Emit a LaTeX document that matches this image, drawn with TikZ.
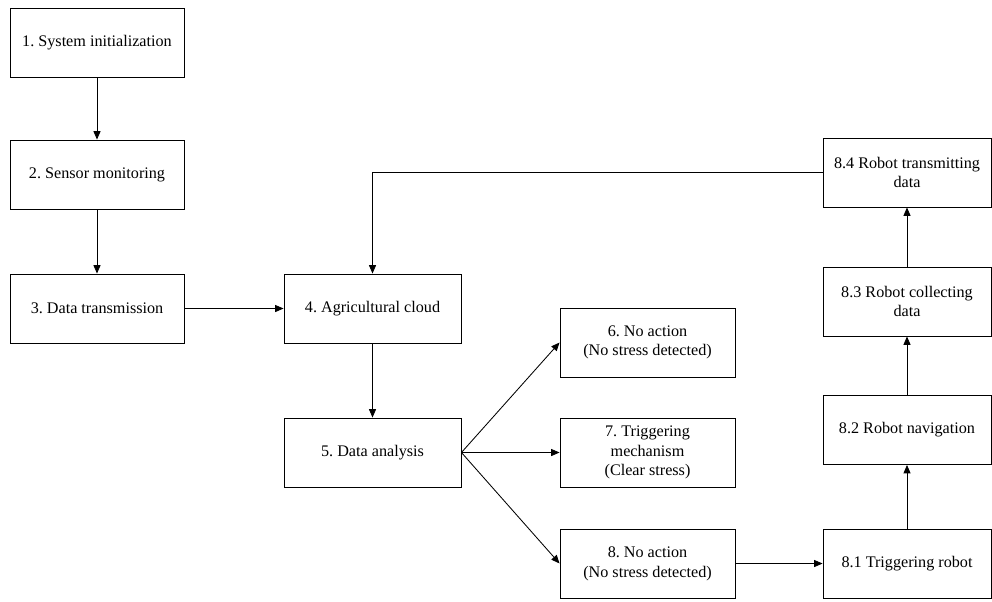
\documentclass[tikz,border=0pt]{standalone}
\usepackage{fontspec}
\setmainfont{Liberation Serif}
\usepackage{tikz}
\usetikzlibrary{arrows.meta, positioning, calc}
\frenchspacing

\begin{document}
\begin{tikzpicture}[x=0.025cm, y=-0.025cm,
    stepbox/.style={draw, line width=0.6pt, align=center, inner sep=2pt,
      font=\rmfamily\fontsize{11.5}{14}\selectfont},
    flow/.style={draw, line width=0.6pt, -{Triangle[length=6pt, width=5pt]}}]
  \useasboundingbox (0,0) rectangle (992,601);

  % left column
  \node[stepbox, minimum width=4.35cm, minimum height=1.725cm] (init) at (97,42.5) {1. System initialization};
  \node[stepbox, minimum width=4.35cm, minimum height=1.725cm] (sensor) at (97,174.5) {2. Sensor monitoring};
  \node[stepbox, minimum width=4.35cm, minimum height=1.725cm] (trans) at (97,308.5) {3. Data transmission};

  % cloud and analysis
  \node[stepbox, minimum width=4.425cm, minimum height=1.725cm] (cloud) at (372.5,308.5) {4. Agricultural cloud};
  \node[stepbox, minimum width=4.425cm, minimum height=1.725cm] (analysis) at (372.5,452.5) {5. Data analysis};

  % outcomes
  \node[stepbox, minimum width=4.375cm, minimum height=1.725cm] (noact) at (647.5,342.5) {6. No action\\(No stress detected)};
  \node[stepbox, minimum width=4.375cm, minimum height=1.725cm] (trigger) at (647.5,452.5) {7. Triggering\\mechanism\\(Clear stress)};
  \node[stepbox, minimum width=4.375cm, minimum height=1.725cm] (noact2) at (647.5,563.5) {8. No action\\(No stress detected)};

  % robot column
  \node[stepbox, minimum width=4.2cm, minimum height=1.725cm] (robtrig) at (907,563.5) {8.1 Triggering robot};
  \node[stepbox, minimum width=4.2cm, minimum height=1.725cm] (robnav) at (907,430) {8.2 Robot navigation};
  \node[stepbox, minimum width=4.2cm, minimum height=1.725cm] (robcoll) at (907,301.5) {8.3 Robot collecting\\data};
  \node[stepbox, minimum width=4.2cm, minimum height=1.725cm] (robsend) at (907,172.5) {8.4 Robot transmitting\\data};

  % connectors
  \draw[flow] (init) -- (sensor);
  \draw[flow] (sensor) -- (trans);
  \draw[flow] (trans) -- (cloud);
  \draw[flow] (cloud) -- (analysis);
  \draw[flow] (analysis.east) -- (noact.west);
  \draw[flow] (analysis.east) -- (trigger.west);
  \draw[flow] (analysis.east) -- (noact2.west);
  \draw[flow] (noact2) -- (robtrig);
  \draw[flow] (robtrig) -- (robnav);
  \draw[flow] (robnav) -- (robcoll);
  \draw[flow] (robcoll) -- (robsend);
  \draw[flow] (robsend.west) -| (cloud.north);
\end{tikzpicture}
\end{document}
